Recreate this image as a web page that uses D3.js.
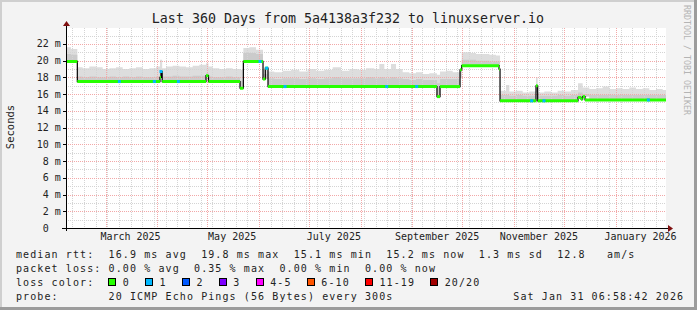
<!DOCTYPE html>
<html>
<head>
<meta charset="utf-8">
<script src="https://cdn.jsdelivr.net/npm/d3@7"></script>
<style>
html, body { margin: 0; padding: 0; background: #f3f3f3; }
svg { display: block; }
text { font-family: "DejaVu Sans Mono", monospace; white-space: pre; }
</style>
</head>
<body>
<div id="chart"></div>
<script>
const title = 'Last 360 Days from 5a4138a3f232 to linuxserver.io';
const endTime = '2026-01-31 06:58:42';
const spanDays = 360;

// median rtt (ms), step after each time
const medianTimes = [
	'2025-02-05 07', '2025-02-12 02', '2025-04-02 16', '2025-04-03 07', '2025-04-04 00',
	'2025-04-30 07', '2025-05-01 19', '2025-05-20 17', '2025-05-22 17', '2025-06-03 12',
	'2025-06-04 21', '2025-06-06 12', '2025-09-15 21', '2025-09-17 17', '2025-09-29 17',
	'2025-09-30 17', '2025-10-23 02', '2025-10-23 17', '2025-11-14 07', '2025-11-15 07',
	'2025-12-09 12', '2025-12-11 07', '2025-12-12 07', '2025-12-13 17'
];
const medianValues = [
	19.9, 17.5, 18.0, 18.7, 17.5,
	18.2, 17.5, 16.7, 19.9, 17.8,
	19.1, 16.9, 15.7, 16.9, 18.9,
	19.4, 19.0, 15.2, 17.0, 15.2,
	15.6, 15.4, 15.7, 15.3
];

// smoke (ms): upper edge of the pings and upper edge of the dense part
const smokeTimes = [
	'2025-02-05 07', '2025-02-08 07', '2025-02-12 02', '2025-02-15 07', '2025-02-19 07',
	'2025-02-23 07', '2025-02-27 07', '2025-03-03 07', '2025-03-07 07', '2025-03-11 07',
	'2025-03-15 07', '2025-03-19 07', '2025-03-23 07', '2025-03-27 07', '2025-03-31 07',
	'2025-04-02 16', '2025-04-04 00', '2025-04-06 07', '2025-04-10 07', '2025-04-14 07',
	'2025-04-18 07', '2025-04-22 07', '2025-04-26 07', '2025-04-30 07', '2025-05-01 19',
	'2025-05-04 07', '2025-05-08 07', '2025-05-12 07', '2025-05-16 07', '2025-05-20 17',
	'2025-05-22 17', '2025-05-26 07', '2025-05-30 07', '2025-06-03 12', '2025-06-06 12',
	'2025-06-10 07', '2025-06-15 07', '2025-06-20 07', '2025-06-25 07', '2025-06-30 07',
	'2025-07-05 07', '2025-07-10 07', '2025-07-15 07', '2025-07-20 07', '2025-07-25 07',
	'2025-07-30 07', '2025-08-04 07', '2025-08-09 07', '2025-08-12 07', '2025-08-15 07',
	'2025-08-19 07', '2025-08-22 07', '2025-08-26 07', '2025-08-30 07', '2025-09-03 07',
	'2025-09-07 07', '2025-09-11 07', '2025-09-15 21', '2025-09-17 17', '2025-09-21 07',
	'2025-09-25 07', '2025-09-29 17', '2025-09-30 17', '2025-10-05 07', '2025-10-09 07',
	'2025-10-13 07', '2025-10-17 07', '2025-10-21 07', '2025-10-23 17', '2025-10-27 07',
	'2025-10-29 07', '2025-11-02 07', '2025-11-06 07', '2025-11-10 07', '2025-11-14 07',
	'2025-11-15 07', '2025-11-19 07', '2025-11-23 07', '2025-11-27 07', '2025-12-01 07',
	'2025-12-05 07', '2025-12-09 12', '2025-12-12 07', '2025-12-16 07', '2025-12-20 07',
	'2025-12-24 07', '2025-12-28 07', '2026-01-01 07', '2026-01-05 07', '2026-01-09 07',
	'2026-01-13 07', '2026-01-17 07', '2026-01-21 07', '2026-01-25 07', '2026-01-29 07'
];
const smokeMax = [
	21.6, 21.4, 19.2, 19.1, 19.3,
	19.2, 19.0, 19.1, 19.2, 19.0,
	19.1, 19.2, 19.0, 19.1, 19.3,
	20.1, 19.1, 19.3, 19.4, 19.3,
	19.2, 19.4, 19.5, 19.7, 19.3,
	19.1, 19.0, 19.1, 19.0, 18.9,
	21.5, 21.6, 21.3, 19.0, 18.7,
	18.6, 18.8, 18.9, 18.7, 19.0,
	18.8, 18.9, 19.2, 18.8, 19.0,
	18.9, 19.1, 19.0, 19.6, 19.0,
	19.6, 19.0, 18.6, 18.5, 18.6,
	18.4, 18.5, 18.3, 18.7, 18.8,
	18.6, 18.9, 21.0, 20.9, 20.8,
	20.8, 20.7, 20.6, 16.4, 17.1,
	16.3, 16.4, 16.2, 16.3, 18.0,
	16.2, 16.3, 16.2, 16.4, 16.3,
	16.5, 17.3, 16.8, 16.6, 16.7,
	16.9, 16.6, 16.7, 16.6, 16.8,
	16.6, 16.7, 16.5, 16.6, 16.5
];
const smokeMid = [
	20.8, 20.7, 18.1, 18.0, 18.1,
	18.0, 18.0, 18.1, 18.0, 18.1,
	18.0, 18.1, 18.0, 18.0, 18.1,
	18.6, 18.1, 18.1, 18.2, 18.1,
	18.1, 18.2, 18.2, 18.5, 18.1,
	18.0, 18.0, 18.1, 18.0, 17.6,
	20.9, 20.9, 20.8, 18.4, 17.9,
	17.8, 17.9, 17.9, 17.8, 17.9,
	17.8, 17.9, 18.0, 17.9, 17.9,
	17.9, 18.0, 17.9, 18.0, 17.9,
	18.0, 17.9, 17.8, 17.7, 17.8,
	17.7, 17.7, 17.3, 17.8, 17.8,
	17.8, 17.9, 20.1, 20.1, 20.0,
	20.0, 19.9, 19.9, 15.9, 15.9,
	15.8, 15.9, 15.8, 15.8, 16.2,
	15.8, 15.8, 15.8, 15.9, 15.8,
	15.9, 16.2, 16.0, 15.9, 15.9,
	15.9, 15.9, 15.9, 15.9, 15.9,
	15.9, 15.9, 15.9, 15.9, 15.9
];

// polls with lost packets
const lossTimes = [
	'2025-03-09 07', '2025-03-30 07', '2025-04-03 07', '2025-04-13 17', '2025-06-01 17',
	'2025-06-05 17', '2025-06-16 17', '2025-08-16 17', '2025-09-03 17', '2025-11-11 17',
	'2025-11-19 02', '2026-01-20 17'
];
const lossCounts = [1, 1, 1, 1, 1, 1, 1, 1, 1, 1, 1, 1];

const lossLabels = ['0', '1', '2', '3', '4-5', '6-10', '11-19', '20/20'];
const lossColors = ['#26ff00', '#00b8ff', '#0059ff', '#7e00ff', '#ff00ff', '#ff5500', '#ff0000', '#a10000'];
const lossLimits = [0, 1, 2, 3, 5, 10, 19, 20];

const yTicks = [0, 2, 4, 6, 8, 10, 12, 14, 16, 18, 20, 22];
const yMax = 23.9;

const rttStats = { avg: '16.9', max: '19.8', min: '15.1', now: '15.2', sd: '1.3', amps: '12.8' };
const lossStats = { avg: '0.00', max: '0.35', min: '0.00', now: '0.00' };
const probeText = '20 ICMP Echo Pings (56 Bytes) every 300s';
const stampText = 'Sat Jan 31 06:58:42 2026';

const parseTime = d3.utcParse('%Y-%m-%d %H');
const end = d3.utcParse('%Y-%m-%d %H:%M:%S')(endTime);
const start = d3.utcDay.offset(end, -spanDays);

const W = 697, H = 310;
const plot = { left: 66, right: 666, top: 28, bottom: 228 };

const svg = d3.select('#chart').append('svg').attr('width', W).attr('height', H);

// canvas and frame
svg.append('rect').attr('width', W).attr('height', H).attr('fill', '#f3f3f3');
svg.append('rect').attr('x', 0).attr('y', 0).attr('width', W).attr('height', 2).attr('fill', '#cfcfcf');
svg.append('rect').attr('x', 0).attr('y', 0).attr('width', 2).attr('height', H).attr('fill', '#cfcfcf');
svg.append('rect').attr('x', W - 3).attr('y', 0).attr('width', 3).attr('height', H).attr('fill', '#9c9c9c');
svg.append('rect').attr('x', 0).attr('y', H - 3).attr('width', W).attr('height', 3).attr('fill', '#9c9c9c');

svg.append('rect')
	.attr('x', plot.left).attr('y', plot.top)
	.attr('width', plot.right - plot.left).attr('height', plot.bottom - plot.top)
	.attr('fill', '#ffffff');

const x = d3.scaleUtc().domain([start, end]).range([plot.left, plot.right]);
const y = d3.scaleLinear().domain([0, yMax]).range([plot.bottom, plot.top]);

const mTimes = medianTimes.map(parseTime);
const sTimes = smokeTimes.map(parseTime);

function medianAt(t) {
	const i = Math.max(0, d3.bisectRight(mTimes, t) - 1);
	return medianValues[i];
}

// smoke
const smoke = sTimes.map((t, i) => ({ t, lo: medianAt(t), mid: smokeMid[i], hi: smokeMax[i] }));
smoke.push({ ...smoke[smoke.length - 1], t: end });

svg.append('path')
	.datum(smoke)
	.attr('fill', '#dddddd')
	.attr('d', d3.area().curve(d3.curveStepAfter).x((d) => x(d.t)).y0((d) => y(d.lo)).y1((d) => y(d.hi)));
svg.append('path')
	.datum(smoke)
	.attr('fill', '#cbcbcb')
	.attr('d', d3.area().curve(d3.curveStepAfter).x((d) => x(d.t)).y0((d) => y(d.lo)).y1((d) => y(d.mid)));

// grid
const grid = svg.append('g').attr('shape-rendering', 'crispEdges');
const minorY = d3.range(1, Math.floor(yMax) + 1).filter((v) => v % 2 !== 0);
grid.selectAll('.ymin').data(minorY).enter().append('line')
	.attr('x1', plot.left).attr('x2', plot.right)
	.attr('y1', (d) => Math.round(y(d)) + 0.5).attr('y2', (d) => Math.round(y(d)) + 0.5)
	.attr('stroke', '#d4d4d4').attr('stroke-dasharray', '1,1');
grid.selectAll('.xmin').data(d3.utcSunday.range(start, end)).enter().append('line')
	.attr('x1', (d) => Math.round(x(d)) + 0.5).attr('x2', (d) => Math.round(x(d)) + 0.5)
	.attr('y1', plot.top).attr('y2', plot.bottom)
	.attr('stroke', '#d4d4d4').attr('stroke-dasharray', '1,1');
grid.selectAll('.ymaj').data(yTicks.slice(1)).enter().append('line')
	.attr('x1', plot.left).attr('x2', plot.right)
	.attr('y1', (d) => Math.round(y(d)) + 0.5).attr('y2', (d) => Math.round(y(d)) + 0.5)
	.attr('stroke', '#f2a8a8').attr('stroke-dasharray', '1,1');
grid.selectAll('.xmaj').data(d3.utcMonth.range(start, end)).enter().append('line')
	.attr('x1', (d) => Math.round(x(d)) + 0.5).attr('x2', (d) => Math.round(x(d)) + 0.5)
	.attr('y1', plot.top).attr('y2', plot.bottom)
	.attr('stroke', '#f2a8a8').attr('stroke-dasharray', '1,1');

// median: black steps, coloured plateaus
const steps = mTimes.map((t, i) => ({ t, v: medianValues[i] }));
steps.push({ t: end, v: medianValues[medianValues.length - 1] });

svg.append('path')
	.datum(steps)
	.attr('fill', 'none')
	.attr('stroke', '#000')
	.attr('stroke-width', 1.2)
	.attr('d', d3.line().curve(d3.curveStepAfter).x((d) => x(d.t)).y((d) => y(d.v)));

svg.selectAll('.plateau').data(steps.slice(0, -1)).enter().append('line')
	.attr('x1', (d) => x(d.t))
	.attr('x2', (d, i) => x(steps[i + 1].t))
	.attr('y1', (d) => y(d.v)).attr('y2', (d) => y(d.v))
	.attr('stroke', lossColors[0]).attr('stroke-width', 3);

const lossIndex = (n) => lossLimits.findIndex((lim) => n <= lim);
svg.selectAll('.loss').data(lossTimes.map((s, i) => ({ t: parseTime(s), n: lossCounts[i] }))).enter().append('rect')
	.attr('x', (d) => x(d.t) - 1.5).attr('y', (d) => y(medianAt(d.t)) - 1.5)
	.attr('width', 3).attr('height', 3)
	.attr('fill', (d) => lossColors[lossIndex(d.n)]);

// axes
const axis = svg.append('g').attr('shape-rendering', 'crispEdges');
axis.append('line').attr('x1', plot.left + 0.5).attr('x2', plot.left + 0.5)
	.attr('y1', plot.bottom + 3).attr('y2', plot.top - 3).attr('stroke', '#000');
axis.append('line').attr('x1', plot.left - 4).attr('x2', plot.right + 2)
	.attr('y1', plot.bottom + 0.5).attr('y2', plot.bottom + 0.5).attr('stroke', '#000');
axis.selectAll('.ytick').data(yTicks).enter().append('line')
	.attr('x1', plot.left - 3).attr('x2', plot.left)
	.attr('y1', (d) => Math.round(y(d)) + 0.5).attr('y2', (d) => Math.round(y(d)) + 0.5)
	.attr('stroke', '#000');
svg.append('path')
	.attr('d', `M${plot.left - 3},${plot.top - 2}L${plot.left + 4},${plot.top - 2}L${plot.left + 0.5},${plot.top - 7}Z`)
	.attr('fill', '#7f1010');
svg.append('path')
	.attr('d', `M${plot.right + 2},${plot.bottom - 3}L${plot.right + 2},${plot.bottom + 4}L${plot.right + 7},${plot.bottom + 0.5}Z`)
	.attr('fill', '#7f1010');

svg.selectAll('.ylab').data(yTicks).enter().append('text')
	.attr('x', 60.8).attr('y', (d) => y(d)).attr('dy', '0.35em')
	.attr('text-anchor', 'end').attr('font-size', 10).attr('fill', '#222')
	.text((d) => (d === 0 ? '0  ' : `${d} m`));

const labelMonths = d3.utcMonth.every(2).range(start, end);
svg.selectAll('.xlab').data(labelMonths).enter().append('text')
	.attr('x', (d) => x(d3.utcDay.offset(d, 15))).attr('y', 240)
	.attr('text-anchor', 'middle').attr('font-size', 10).attr('fill', '#222')
	.text((d) => d3.utcFormat('%B %Y')(d));

svg.append('text')
	.attr('transform', 'translate(14,127) rotate(-90)')
	.attr('text-anchor', 'middle').attr('font-size', 10.5).attr('fill', '#222')
	.text('Seconds');

svg.append('text')
	.attr('x', 348).attr('y', 23)
	.attr('text-anchor', 'middle').attr('font-size', 13.3).attr('fill', '#222')
	.text(title);

svg.append('text')
	.attr('transform', 'translate(684,5) rotate(90)')
	.attr('font-size', 8.3).attr('fill', '#b4b4b4')
	.text('RRDTOOL / TOBI OETIKER');

// legend
const legend = svg.append('g').attr('font-size', 10).attr('fill', '#222').attr('letter-spacing', 1.1);
legend.append('text').attr('x', 16).attr('y', 258)
	.text(`median rtt:  ${rttStats.avg} ms avg  ${rttStats.max} ms max  ${rttStats.min} ms min  ${rttStats.now} ms now  ${rttStats.sd} ms sd  ${rttStats.amps}   am/s`);
legend.append('text').attr('x', 16).attr('y', 272)
	.text(`packet loss: ${lossStats.avg} % avg  ${lossStats.max} % max  ${lossStats.min} % min  ${lossStats.now} % now`);
legend.append('text').attr('x', 16).attr('y', 286).text('loss color:');

let bx = 108.3;
lossLabels.forEach((lab, i) => {
	legend.append('rect')
		.attr('x', Math.round(bx) + 0.5).attr('y', 278.5).attr('width', 7).attr('height', 7)
		.attr('fill', lossColors[i]).attr('stroke', '#000').attr('stroke-width', 1);
	legend.append('text').attr('x', bx + 14.4).attr('y', 286).text(lab);
	bx += 14.4 + lab.length * 7.09 + 15.4;
});

legend.append('text').attr('x', 16).attr('y', 300).text(`probe:       ${probeText}`);
legend.append('text').attr('x', 513.3).attr('y', 300).text(stampText);
</script>
</body>
</html>
